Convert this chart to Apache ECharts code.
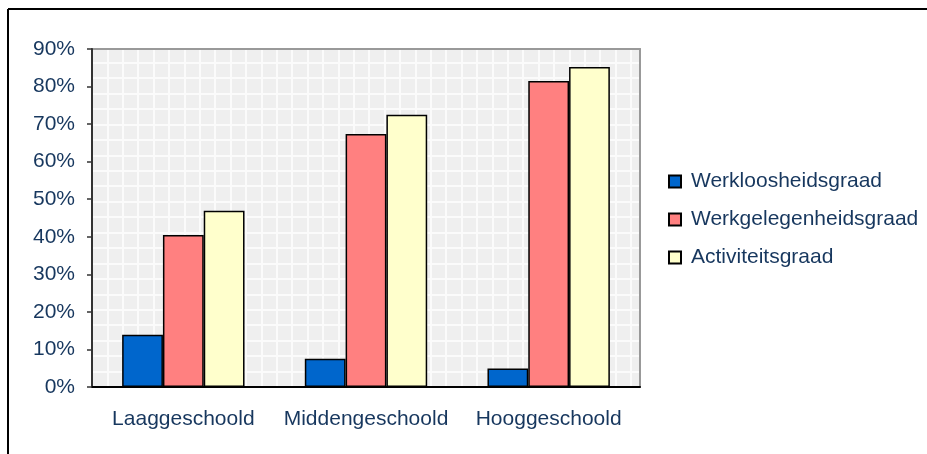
<!DOCTYPE html>
<html>
<head>
<meta charset="utf-8">
<script src="https://cdn.jsdelivr.net/npm/echarts@6/dist/echarts.min.js"></script>
<style>html,body{margin:0;padding:0;background:#fff}#c{width:927px;height:454px}</style>
</head>
<body>
<div id="c"></div>
<script>
const categories = ['Laaggeschoold', 'Middengeschoold', 'Hooggeschoold'];
const werkloosheidsgraad = [13.9, 7.5, 4.9];
const werkgelegenheidsgraad = [40.5, 67.4, 81.5];
const activiteitsgraad = [46.9, 72.5, 85.2];
const seriesNames = ['Werkloosheidsgraad', 'Werkgelegenheidsgraad', 'Activiteitsgraad'];
const yTicks = [0, 10, 20, 30, 40, 50, 60, 70, 80, 90];

const txt = '#17375e';
const font = 'Liberation Sans, Arial, sans-serif';
const fs = 21;
const chart = echarts.init(document.getElementById('c'), null, {renderer: 'canvas'});
const gridW = 548, gridH = 338;
function bar(name, data, color) {
  return {
    name: name, type: 'bar', data: data, xAxisIndex: 0, yAxisIndex: 0,
    barGap: '0%', barCategoryGap: '33%',
    itemStyle: {color: color, borderColor: '#000', borderWidth: 1.5},
    emphasis: {disabled: true}
  };
}
chart.setOption({
  animation: false,
  textStyle: {fontFamily: font},
  grid: {left: 92, top: 49, width: gridW, height: gridH, show: true,
         backgroundColor: '#efefef', borderWidth: 0},
  graphic: [
    {type: 'line', shape: {x1: 8, y1: 9, x2: 927, y2: 9}, style: {stroke: '#000', lineWidth: 2}},
    {type: 'line', shape: {x1: 8, y1: 9, x2: 8, y2: 454}, style: {stroke: '#000', lineWidth: 2}}
  ],
  legend: {
    orient: 'vertical', left: 663, top: 166, itemWidth: 12, itemHeight: 12, itemGap: 17,
    icon: 'rect',
    textStyle: {color: txt, fontSize: fs, fontFamily: font, padding: [0, 0, 0, 5]},
    data: seriesNames
  },
  xAxis: [
    {type: 'category', data: categories,
     axisLine: {lineStyle: {color: '#000', width: 2}},
     axisTick: {length: 5, lineStyle: {color: '#444', width: 1.5}},
     axisLabel: {color: txt, fontSize: fs, margin: 22, fontFamily: font, interval: 0},
     splitLine: {show: false}, z: 5},
    {type: 'value', min: 0, max: gridW / 15.4, interval: 1, show: true, position: 'top',
     axisLine: {show: true, onZero: false, lineStyle: {color: '#999', width: 2}},
     axisTick: {show: false}, axisLabel: {show: false},
     splitLine: {show: true, lineStyle: {color: '#fbfbfb', width: 2}}}
  ],
  yAxis: [
    {type: 'value', min: 0, max: 90, interval: 10,
     axisLine: {show: true, lineStyle: {color: '#333', width: 2}},
     axisTick: {show: true, length: 5, lineStyle: {color: '#333', width: 1.5}},
     axisLabel: {color: txt, fontSize: fs, margin: 17, fontFamily: font,
                 formatter: function (v) { return yTicks.indexOf(v) >= 0 ? v + '%' : ''; }},
     splitLine: {show: false}, z: 5},
    {type: 'value', min: 0, max: gridH / 15.45, interval: 1, show: true, position: 'right',
     axisLine: {show: true, onZero: false, lineStyle: {color: '#999', width: 2}},
     axisTick: {show: false}, axisLabel: {show: false},
     splitLine: {show: true, lineStyle: {color: '#fbfbfb', width: 2}}}
  ],
  series: [
    bar(seriesNames[0], werkloosheidsgraad, '#0066cc'),
    bar(seriesNames[1], werkgelegenheidsgraad, '#ff8080'),
    bar(seriesNames[2], activiteitsgraad, '#ffffcc')
  ]
});
</script>
</body>
</html>
